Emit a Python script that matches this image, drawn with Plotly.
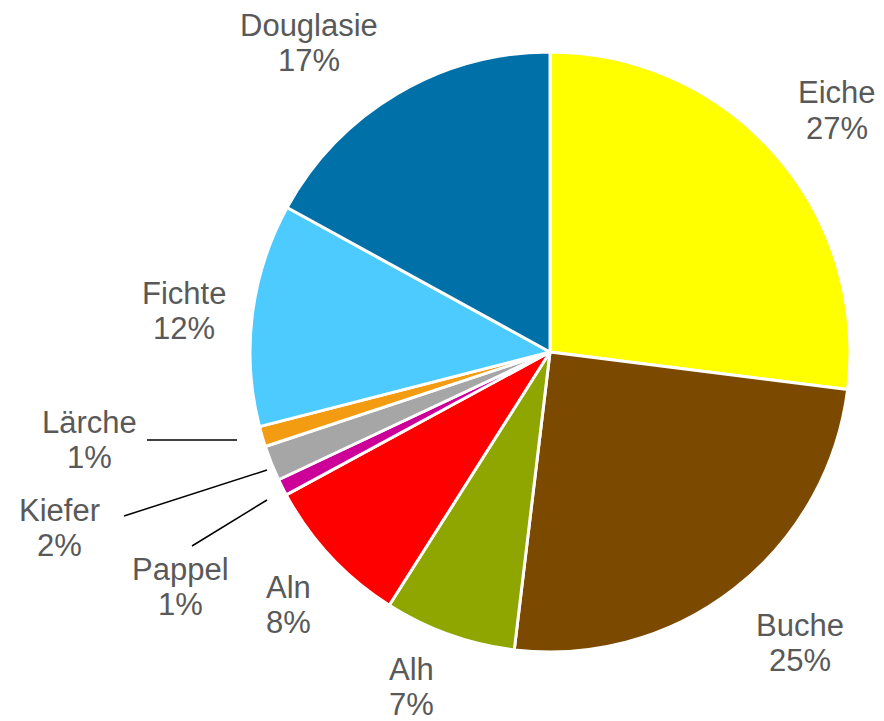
import plotly.graph_objects as go

W, H = 884, 721

species = ["Eiche", "Buche", "Alh", "Aln", "Pappel", "Kiefer", "Lärche", "Fichte", "Douglasie"]
shares = [27.0, 24.9, 7.1, 8.1, 0.9, 1.9, 1.1, 12.0, 17.0]
pct_labels = ["27%", "25%", "7%", "8%", "1%", "2%", "1%", "12%", "17%"]
colors = ["#FFFF00", "#7B4A00", "#8FA500", "#FF0000", "#CC0099", "#A6A6A6", "#F39C12", "#4DCBFF", "#0070A8"]

# label centre positions in pixels (x, y of the first line's cap centre)
label_pos = {
    "Eiche": (837, 93), "Buche": (800, 625), "Alh": (411, 669), "Aln": (288, 587),
    "Pappel": (180, 569), "Kiefer": (59, 510), "Lärche": (89, 422),
    "Fichte": (184, 293), "Douglasie": (309, 26),
}
line_gap = 35
leaders = [((147, 440), (237, 440)), ((124, 516), (267, 470)), ((192, 546), (267, 500))]

cx, cy, r = 550, 352, 300

fig = go.Figure(go.Pie(
    labels=species, values=shares, sort=False, direction="clockwise", rotation=0,
    marker=dict(colors=colors, line=dict(color="white", width=3)),
    textinfo="none", hoverinfo="label+percent", showlegend=False,
    domain=dict(x=[(cx - r) / W, (cx + r) / W], y=[1 - (cy + r) / H, 1 - (cy - r) / H]),
))

font = dict(family="Liberation Sans, Arial", size=31, color="#595959")
annotations = []
for name, pct in zip(species, pct_labels):
    x, y = label_pos[name]
    for i, txt in enumerate([name, pct]):
        annotations.append(dict(
            x=x / W, y=1 - (y + i * line_gap) / H, xref="paper", yref="paper",
            text=txt, showarrow=False, xanchor="center", yanchor="middle",
            font=font,
        ))

shapes = []
for (x0, y0), (x1, y1) in leaders:
    shapes.append(dict(type="line", xref="paper", yref="paper",
                       x0=x0 / W, y0=1 - y0 / H, x1=x1 / W, y1=1 - y1 / H,
                       line=dict(color="black", width=1.5)))

fig.update_layout(
    width=W, height=H, margin=dict(l=0, r=0, t=0, b=0),
    paper_bgcolor="white", plot_bgcolor="white",
    annotations=annotations, shapes=shapes,
)

fig.write_html("out.html")
